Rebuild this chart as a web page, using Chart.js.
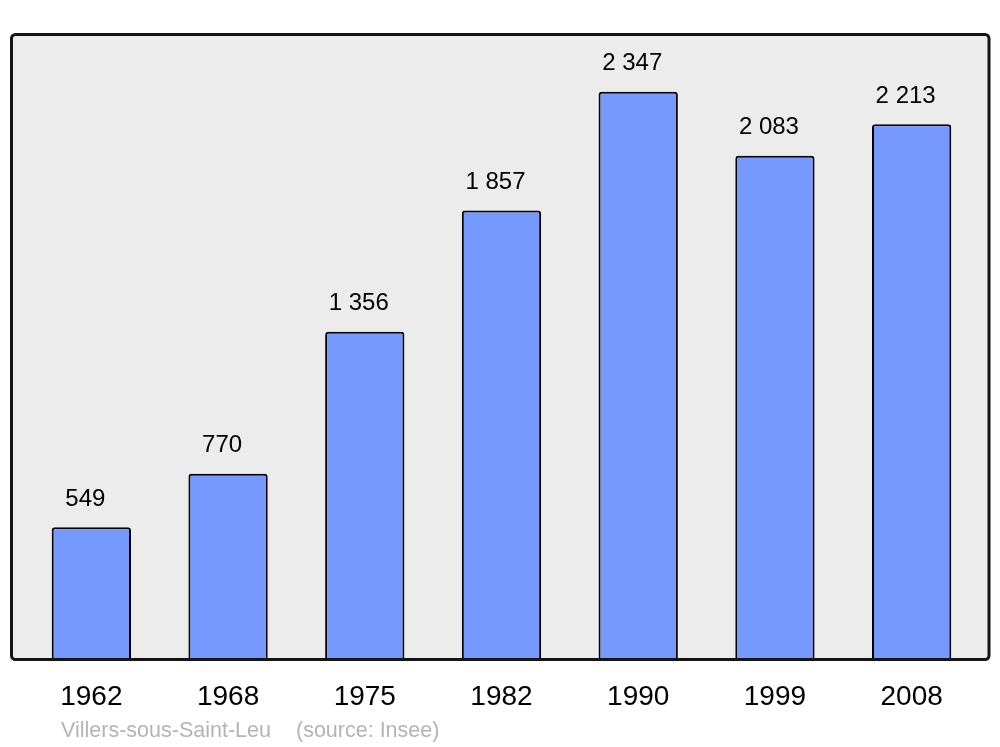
<!DOCTYPE html>
<html>
<head>
<meta charset="utf-8">
<script src="https://cdn.jsdelivr.net/npm/chart.js@4.4.0/dist/chart.umd.min.js"></script>
<style>
  html, body { margin: 0; padding: 0; background: #fff; }
  #wrap { width: 1000px; height: 747px; }
</style>
</head>
<body>
<div id="wrap"><canvas id="pop"></canvas></div>
<script>
const years = ['1962', '1968', '1975', '1982', '1990', '1999', '2008'];
const population = [549, 770, 1356, 1857, 2347, 2083, 2213];
const footerTown = 'Villers-sous-Saint-Leu';
const footerSource = '(source: Insee)';

function fmt(n) {
    return String(n).replace(/\B(?=(\d{3})+(?!\d))/g, ' ');
}

// background panel + frame around the plot
const framePlugin = {
    id: 'frame',
    beforeDatasetsDraw(chart) {
        const ctx = chart.ctx;
        ctx.save();
        ctx.beginPath();
        ctx.roundRect(11.5, 34.5, 977.5, 625, 4);
        ctx.fillStyle = '#ececec';
        ctx.fill();
        ctx.restore();
    },
    afterDatasetsDraw(chart) {
        const ctx = chart.ctx;
        ctx.save();
        ctx.beginPath();
        ctx.roundRect(11.5, 34.5, 977.5, 625, 4);
        ctx.lineWidth = 3;
        ctx.strokeStyle = '#151515';
        ctx.stroke();

        // value labels above bars
        const meta = chart.getDatasetMeta(0);
        ctx.fillStyle = '#000';
        ctx.font = '24px "Liberation Sans", Arial, sans-serif';
        ctx.textAlign = 'center';
        ctx.textBaseline = 'middle';
        meta.data.forEach((bar, i) => {
            ctx.fillText(fmt(population[i]), bar.x - 6, bar.y - 28);
        });

        // footer
        ctx.fillStyle = '#b4b4b4';
        ctx.font = '21.5px "Liberation Sans", Arial, sans-serif';
        ctx.textAlign = 'left';
        ctx.textBaseline = 'alphabetic';
        ctx.fillText(footerTown, 61, 737);
        ctx.fillText(footerSource, 296, 737);
        ctx.restore();
    }
};

new Chart(document.getElementById('pop').getContext('2d'), {
    type: 'bar',
    data: {
        labels: years,
        datasets: [{
            data: population,
            backgroundColor: '#7599ff',
            borderColor: '#000',
            borderWidth: 2,
            borderRadius: 3,
            borderSkipped: false,
            barPercentage: 0.58,
            categoryPercentage: 1
        }]
    },
    options: {
        responsive: true,
        maintainAspectRatio: false,
        animation: false,
        layout: {
            padding: { left: 23, right: 20, top: 34, bottom: 13 }
        },
        plugins: {
            legend: { display: false },
            tooltip: { enabled: false }
        },
        scales: {
            x: {
                grid: { display: false, drawTicks: false },
                border: { display: false },
                ticks: {
                    color: '#000',
                    padding: 20,
                    font: { size: 28, family: '"Liberation Sans", Arial, sans-serif' }
                }
            },
            y: {
                display: false,
                min: 0,
                max: 2585
            }
        }
    },
    plugins: [framePlugin]
});
</script>
</body>
</html>
